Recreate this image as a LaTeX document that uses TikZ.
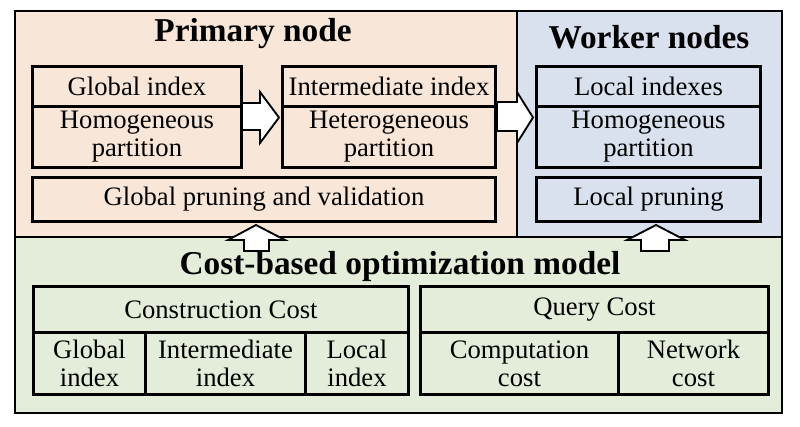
\documentclass[tikz,border=0pt]{standalone}
\usepackage{fontspec}
\setmainfont{Liberation Serif}
\definecolor{peach}{RGB}{248,230,216}
\definecolor{bluegray}{RGB}{218,225,238}
\definecolor{palegreen}{RGB}{227,237,218}
\begin{document}
\begin{tikzpicture}[x=0.75pt,y=-0.75pt,
 region/.style={draw=black, line width=1.6pt, anchor=north west, inner sep=0pt},
 cell/.style={draw=black, line width=2.2pt, anchor=north west, inner sep=0pt, align=center, font=\fontsize{20}{21}\selectfont},
 titletext/.style={font=\fontsize{25}{28}\selectfont\bfseries},
 blockarrow/.style={draw=black, line width=1.4pt, fill=white, line join=miter}]
\useasboundingbox[fill=white] (0,0) rectangle (800,426);
% regions
\node[region, fill=peach, minimum width=502*0.75pt, minimum height=226*0.75pt] (prim) at (14,10) {};
\node[region, fill=bluegray, minimum width=265*0.75pt, minimum height=226*0.75pt] (work) at (516,10) {};
\node[region, fill=palegreen, minimum width=767*0.75pt, minimum height=176*0.75pt] (cost) at (14,236) {};
% titles
\node[titletext] (tprim) at (253,34) {Primary node};
\node[titletext] (twork) at (649,37) {Worker nodes};
\node[titletext] (tcost) at (400,266) {Cost-based optimization model};
% primary cells
\node[cell, minimum width=209*0.75pt, minimum height=40*0.75pt] (gi) at (31,65) {Global index};
\node[cell, minimum width=209*0.75pt, minimum height=61*0.75pt] (hp) at (31,105) {Homogeneous\\partition};
\node[cell, minimum width=213*0.75pt, minimum height=40*0.75pt] (ii) at (281,65) {Intermediate index};
\node[cell, minimum width=213*0.75pt, minimum height=61*0.75pt] (hetp) at (281,105) {Heterogeneous\\partition};
\node[cell, minimum width=463*0.75pt, minimum height=44*0.75pt] (gpv) at (31,176) {Global pruning and validation};
% worker cells
\node[cell, minimum width=224*0.75pt, minimum height=40*0.75pt] (li) at (535,65) {Local indexes};
\node[cell, minimum width=224*0.75pt, minimum height=61*0.75pt] (lhp) at (535,105) {Homogeneous\\partition};
\node[cell, minimum width=224*0.75pt, minimum height=44*0.75pt] (lp) at (535,176) {Local pruning};
% cost cells
\node[cell, minimum width=375*0.75pt, minimum height=46*0.75pt] (cc) at (32,285) {Construction Cost};
\node[cell, minimum width=112*0.75pt, minimum height=62*0.75pt] (gidx) at (32,331) {Global\\index};
\node[cell, minimum width=160*0.75pt, minimum height=62*0.75pt] (iidx) at (144,331) {Intermediate\\index};
\node[cell, minimum width=103*0.75pt, minimum height=62*0.75pt] (lidx) at (304,331) {Local\\index};
\node[cell, minimum width=348*0.75pt, minimum height=46*0.75pt] (qc) at (419,285) {Query Cost};
\node[cell, minimum width=198*0.75pt, minimum height=62*0.75pt] (comp) at (419,331) {Computation\\cost};
\node[cell, minimum width=150*0.75pt, minimum height=62*0.75pt] (net) at (617,331) {Network\\cost};
% block arrows
\draw[blockarrow] (242,103) -- (260,103) -- (260,92) -- (279,117.5) -- (260,143) -- (260,130) -- (242,130) -- cycle;
\draw[blockarrow] (497,102) -- (517,102) -- (517,92) -- (533,117.5) -- (517,143) -- (517,131) -- (497,131) -- cycle;
\draw[blockarrow] (244,251) -- (244,240) -- (228,240) -- (256,225) -- (285,240) -- (269,240) -- (269,251) -- cycle;
\draw[blockarrow] (641,251) -- (641,240) -- (627,240) -- (656,225) -- (685,240) -- (669,240) -- (669,251) -- cycle;
\end{tikzpicture}
\end{document}
